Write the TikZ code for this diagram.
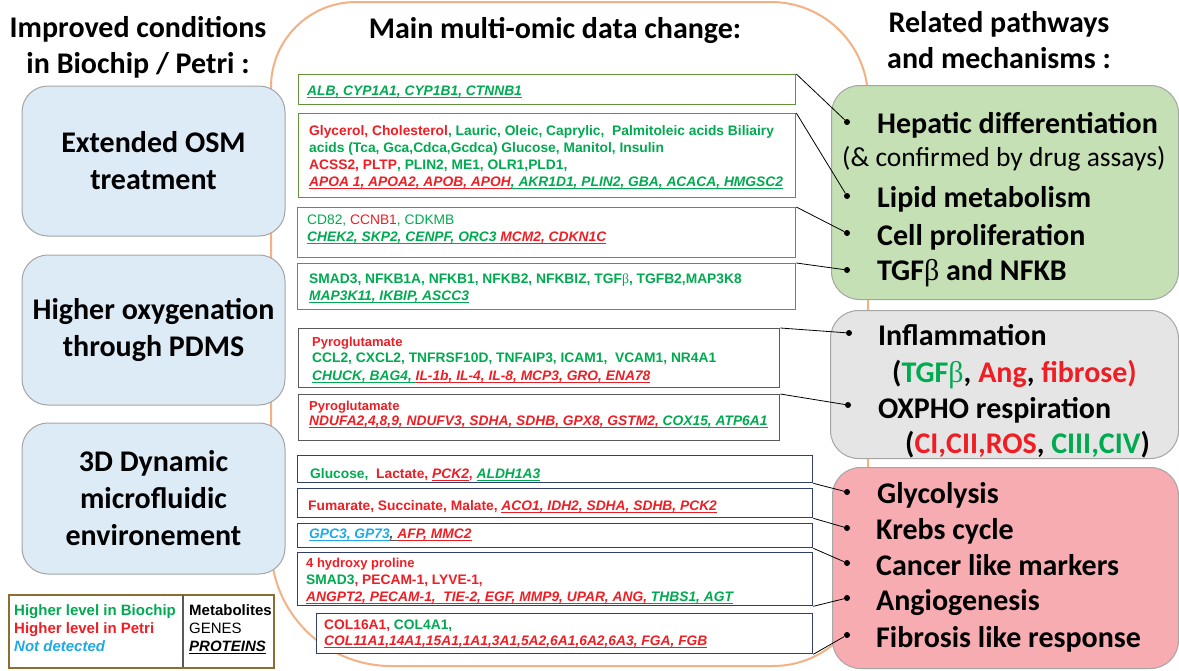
\documentclass[tikz,border=0pt]{standalone}
\usepackage{fontspec}
\setmainfont{Carlito}
\newfontfamily\arialf{Liberation Sans}
\newfontfamily\serf{Liberation Serif}
\definecolor{cgreen}{RGB}{0,170,80}
\definecolor{cred}{RGB}{238,30,36}
\definecolor{cblue}{RGB}{30,170,230}
\definecolor{cdark}{RGB}{80,80,80}
\definecolor{boxgreen}{RGB}{100,145,60}
\definecolor{boxgray}{RGB}{90,90,90}
\definecolor{boxnavy}{RGB}{50,62,110}
\definecolor{orangeline}{RGB}{244,177,131}
\definecolor{lblue}{RGB}{221,235,247}
\definecolor{lgreen}{RGB}{197,224,180}
\definecolor{lgray}{RGB}{229,229,229}
\definecolor{lpink}{RGB}{246,172,177}
\definecolor{legbrown}{RGB}{140,110,50}
\definecolor{edgegray}{RGB}{165,165,165}
\newcommand{\ulx}[1]{{\setbox0=\hbox{#1}\dp0=0pt\vtop{\box0\kern1.6pt\hrule height 0.9pt}}}
\newcommand{\Gt}[1]{{\color{cgreen}#1}}
\newcommand{\Rt}[1]{{\color{cred}#1}}
\newcommand{\Gp}[1]{{\color{cgreen}\itshape\ulx{#1}}}
\newcommand{\Rp}[1]{{\color{cred}\itshape\ulx{#1}}}
\newcommand{\Bp}[1]{{\color{cblue}\itshape\ulx{#1}}}
\newcommand{\Kp}[1]{{\color{cdark}\itshape\ulx{#1}}}
\newcommand{\bet}{{\serf\mdseries β}}
\tikzset{
  hdr/.style={anchor=base, inner sep=0, font=\bfseries\fontsize{30}{36}\selectfont},
  lbox/.style={draw=edgegray, fill=lblue, line width=1pt, rounded corners=26pt,
    minimum width=263pt, align=center, font=\bfseries\fontsize{30}{37}\selectfont},
  rbox/.style={draw=edgegray, line width=1pt, rounded corners=28pt, anchor=north west},
  mbox/.style={fill=white, line width=1.3pt, anchor=north west, inner sep=0},
  gb/.style={mbox, draw=boxgreen},
  kb/.style={mbox, draw=boxgray},
  nb/.style={mbox, draw=boxnavy},
  sm/.style={anchor=base west, inner sep=0, font=\arialf\bfseries\fontsize{13.8}{17}\selectfont},
  smr/.style={anchor=base west, inner sep=0, font=\arialf\fontsize{13.8}{17}\selectfont},
  pyro/.style={anchor=base west, inner sep=0, font=\arialf\bfseries\fontsize{13}{15}\selectfont},
  rt/.style={anchor=base west, inner sep=0, font=\bfseries\fontsize{30}{36}\selectfont},
  rtn/.style={anchor=base west, inner sep=0, font=\fontsize{27.5}{30}\selectfont},
  bul/.style={circle, fill=black, inner sep=0, minimum size=6pt},
  conn/.style={draw=black, line width=0.8pt},
  leg/.style={anchor=base west, inner sep=0, font=\arialf\bfseries\fontsize{15}{18}\selectfont},
}
\begin{document}
\begin{tikzpicture}[x=1pt,y=-1pt]
\useasboundingbox (0,0) rectangle (1179,670);
\fill[white] (0,0) rectangle (1179,670);
% orange outline
\draw[orangeline, line width=2pt] (271,87) arc[start angle=180, end angle=90, radius=85pt]
  -- (771,2) arc[start angle=90, end angle=0, radius=97pt]
  -- (868,571) arc[start angle=0, end angle=-90, radius=95pt]
  -- (391,666) arc[start angle=270, end angle=180, radius=120pt] -- cycle;
% headers
\node[hdr] (h_l1) at (138,37) {Improved conditions};
\node[hdr] (h_l2) at (138,73) {in Biochip / Petri :};
\node[hdr] (h_m) at (555,38) {Main multi-omic data change:};
\node[hdr] (h_r1) at (999,32) {Related pathways};
\node[hdr] (h_r2) at (999,68) {and mechanisms :};
% left boxes
\node[lbox, minimum height=150pt] (c1) at (153.5,161) {Extended OSM\\treatment};
\node[lbox, minimum height=150pt] (c2) at (153.5,330) {Higher oxygenation\\through PDMS};
\node[lbox, minimum height=151pt] (c3) at (153.5,498.5) {3D Dynamic\\microfluidic\\environement};
% right boxes
\node[rbox, fill=lgreen, minimum width=347pt, minimum height=214pt] (rg) at (831,85) {};
\node[rbox, fill=lgray, minimum width=348pt, minimum height=148pt] (rk) at (830,310) {};
\node[rbox, fill=lpink, minimum width=346pt, minimum height=201pt] (rp) at (832,467) {};
% middle boxes
\node[gb, minimum width=497pt, minimum height=30pt] (b1) at (298,74) {};
\node[gb, minimum width=497pt, minimum height=84pt] (b2) at (298,113) {};
\node[gb, minimum width=498pt, minimum height=50pt] (b3) at (297,207) {};
\node[gb, minimum width=498pt, minimum height=46pt] (b4) at (297,263) {};
\node[kb, minimum width=481pt, minimum height=59pt] (b5) at (298,328) {};
\node[kb, minimum width=481pt, minimum height=46pt] (b6) at (298,394) {};
\node[nb, minimum width=515pt, minimum height=27pt] (b7) at (297,455) {};
\node[nb, minimum width=515pt, minimum height=29pt] (b8) at (297,488) {};
\node[nb, minimum width=515pt, minimum height=24pt] (b9) at (297,523) {};
\node[nb, minimum width=515pt, minimum height=53pt] (b10) at (297,552) {};
\node[nb, minimum width=496pt, minimum height=40pt] (b11) at (316,613) {};
% bullets
\node[bul] (u1) at (847,122) {};
\node[bul] (u2) at (847,196) {};
\node[bul] (u3) at (847,233) {};
\node[bul] (u4) at (847,270) {};
\node[bul] (u5) at (849,333) {};
\node[bul] (u6) at (848,405) {};
\node[bul] (u7) at (847,492) {};
\node[bul] (u8) at (847,528) {};
\node[bul] (u9) at (847,563) {};
\node[bul] (u10) at (847,598) {};
\node[bul] (u11) at (847,635) {};
% connectors
\draw[conn] (b1.north east) -- (u1);
\draw[conn] (b2.north east) -- (u2);
\draw[conn] (b3.north east) -- (u3);
\draw[conn] (b4.north east) -- (u4);
\draw[conn] (b5.north east) -- (u5);
\draw[conn] (b6.north east) -- (u6);
\draw[conn] (b7.south east) -- (u7);
\draw[conn] (b8.south east) -- (u8);
\draw[conn] (b9.south east) -- (u9);
\draw[conn] (b10.south east) -- (u10);
\draw[conn] (b11.south east) -- (u11);
% right texts
\node[rt] (r1) at (877,133) {Hepatic differentiation};
\node[rtn] (r1b) at (842,166) {(\& confirmed by drug assays)};
\node[rt] (r2) at (877,207) {Lipid metabolism};
\node[rt] (r3) at (877,245) {Cell proliferation};
\node[rt] (r4) at (877,280) {TGF\bet{} and NFKB};
\node[rt] (r5) at (878,345) {Inflammation};
\node[rt] (r5b) at (892,382) {(\Gt{TGF\bet}, \Rt{Ang}, \Rt{fibrose)}};
\node[rt] (r6) at (878,418) {OXPHO respiration};
\node[rt] (r6b) at (905,453) {(\Rt{CI,CII,ROS}, \Gt{CIII,CIV})};
\node[rt] (r7) at (877,503) {Glycolysis};
\node[rt] (r8) at (876,539) {Krebs cycle};
\node[rt] (r9) at (876,575) {Cancer like markers};
\node[rt] (r10) at (876,610) {Angiogenesis};
\node[rt] (r11) at (876,647) {Fibrosis like response};
% middle texts
\node[sm] (m1) at (307,95) {\Gp{ALB, CYP1A1, CYP1B1, CTNNB1}};
\node[sm] (m2a) at (309,135) {\Rt{Glycerol, Cholesterol}\Gt{, Lauric, Oleic, Caprylic,\ \ Palmitoleic acids Biliairy}};
\node[sm] (m2b) at (309,152) {\Gt{acids (Tca, Gca,Cdca,Gcdca) Glucose, Manitol, Insulin}};
\node[sm] (m2c) at (309,169) {\Rt{ACSS2, PLTP}\Gt{, PLIN2, ME1, OLR1,PLD1,}};
\node[sm] (m2d) at (309,186) {\Rp{APOA 1, APOA2, APOB, APOH}\Gp{, AKR1D1, PLIN2, GBA, ACACA, HMGSC2}};
\node[smr] (m3a) at (307,224) {\Gt{CD82, }\Rt{CCNB1}\Gt{, CDKMB}};
\node[sm] (m3b) at (307,241) {\Gp{CHEK2, SKP2, CENPF, ORC3 }\Rp{MCM2, CDKN1C}};
\node[sm] (m4a) at (309,283) {\Gt{SMAD3, NFKB1A, NFKB1, NFKB2, NFKBIZ, TGF\bet, TGFB2,MAP3K8}};
\node[sm] (m4b) at (309,300) {\Gp{MAP3K11, IKBIP, ASCC3}};
\node[pyro] (m5a) at (312,346) {\Rt{Pyroglutamate}};
\node[sm] (m5b) at (312,362) {\Gt{CCL2, CXCL2, TNFRSF10D, TNFAIP3, ICAM1,\ \ VCAM1, NR4A1}};
\node[sm] (m5c) at (312,380) {\Gp{CHUCK, BAG4, }\Rp{IL-1b, IL-4, IL-8, MCP3, GRO, ENA78}};
\node[pyro] (m6a) at (309,410) {\Rt{Pyroglutamate}};
\node[sm] (m6b) at (309,425) {\Rp{NDUFA2,4,8,9, NDUFV3, SDHA, SDHB, GPX8, GSTM2, }\Gp{COX15, ATP6A1}};
\node[sm] (m7) at (310,478) {\Gt{Glucose,\ \ }\Rt{Lactate, }\Rp{PCK2}\Rt{, }\Gp{ALDH1A3}};
\node[sm] (m8) at (308,510) {\Rt{Fumarate, Succinate, Malate, }\Rp{ACO1, IDH2, SDHA, SDHB, PCK2}};
\node[sm] (m9) at (309,538) {\Bp{GPC3, GP73}\Kp{, }\Rp{AFP, MMC2}};
\node[pyro] (m10a) at (306,567) {\Rt{4 hydroxy proline}};
\node[sm] (m10b) at (306,584) {\Gt{SMAD3}\Rt{, PECAM-1, LYVE-1,}};
\node[sm] (m10c) at (306,601) {\Rp{ANGPT2, PECAM-1,\ \ TIE-2, EGF, MMP9, UPAR, ANG, }\Gp{THBS1, AGT}};
\node[sm] (m11a) at (324,629) {\Rt{COL16A1, }\Gt{COL4A1,}};
\node[sm] (m11b) at (324,645) {\Rp{COL11A1,14A1,15A1,1A1,3A1,5A2,6A1,6A2,6A3, FGA, FGB}};
% legend
\node[draw=legbrown, line width=2pt, anchor=north west, minimum width=265pt, minimum height=73pt, inner sep=0] (lg) at (8,594) {};
\draw[boxgray, line width=1.2pt] (183,595) -- (183,667);
\node[leg] (lg1) at (14,615) {\Gt{Higher level in Biochip}};
\node[leg] (lg2) at (14,633) {\Rt{Higher level in Petri}};
\node[leg] (lg3) at (14,651) {{\color{cblue}\itshape Not detected}};
\node[leg] (lg4) at (189,615) {Metabolites};
\node[leg, font=\arialf\fontsize{15}{18}\selectfont] (lg5) at (189,633) {GENES};
\node[leg] (lg6) at (189,651) {{\itshape\ulx{PROTEINS}}};
\end{tikzpicture}
\end{document}
